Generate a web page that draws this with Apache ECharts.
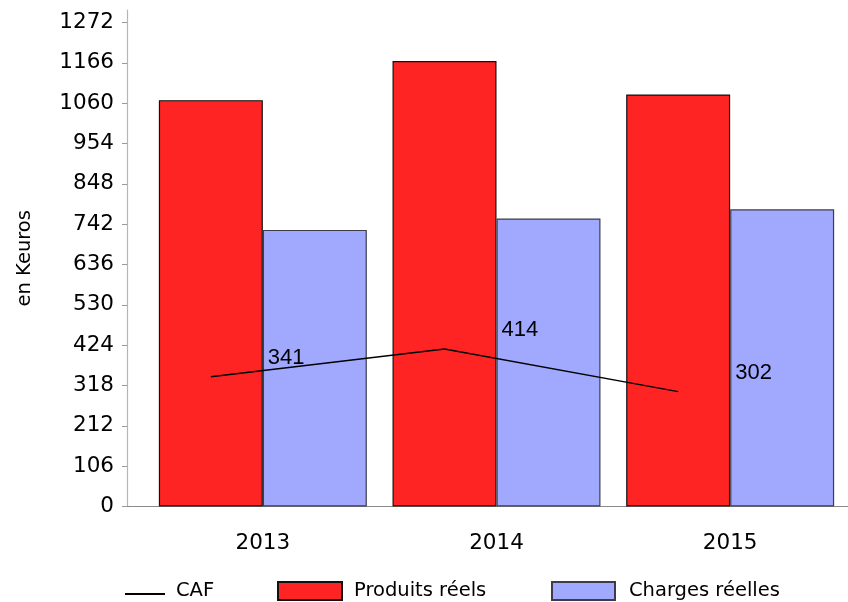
<!DOCTYPE html>
<html>
<head>
<meta charset="utf-8">
<script src="https://cdn.jsdelivr.net/npm/echarts@6/dist/echarts.min.js"></script>
<style>
html,body{margin:0;padding:0;background:#fff;}
#chart{width:848px;height:602px;}
</style>
</head>
<body>
<div id="chart"></div>
<script>
const categories = ['2013', '2014', '2015'];
const produitsReels = [1068, 1171, 1083];
const chargesReelles = [727, 757, 781];
const caf = [341, 414, 302];
const yTickValues = [0, 106, 212, 318, 424, 530, 636, 742, 848, 954, 1060, 1166, 1272];
const yMax = 1305;

const FONT = 'DejaVu Sans';
const chart = echarts.init(document.getElementById('chart'), null, {renderer: 'canvas'});

const catGap = 0.11;                 // barCategoryGap fraction
const redOffset = (1 - catGap) / 4;  // red bar centre offset from category centre (fraction of band)

const legendText = {color: '#000', fontFamily: FONT, fontSize: 19.5};

chart.setOption({
  backgroundColor: '#ffffff',
  animation: false,
  grid: [
    {left: 146, right: 1, top: 10, bottom: 95.5},
    {left: 127, right: 0, top: 10, bottom: 95.5}
  ],
  xAxis: [
    {
      gridIndex: 0, type: 'category', data: categories,
      axisLine: {show: false}, axisTick: {show: false},
      axisLabel: {margin: 26, color: '#000', fontFamily: FONT, fontSize: 21.5}
    },
    {
      gridIndex: 0, type: 'value', show: false,
      min: -0.5 + redOffset, max: categories.length - 0.5 + redOffset
    },
    {
      gridIndex: 1, type: 'value', min: 0, max: 1,
      axisLine: {show: true, lineStyle: {color: '#8a8a8a', width: 1.2}},
      axisTick: {show: false}, axisLabel: {show: false}, splitLine: {show: false}
    }
  ],
  yAxis: [
    {gridIndex: 0, type: 'value', min: 0, max: yMax, show: false},
    {
      gridIndex: 1, type: 'value', min: 0, max: yMax,
      name: 'en Keuros', nameLocation: 'middle', nameGap: 92,
      nameTextStyle: {color: '#000', fontFamily: FONT, fontSize: 19.5},
      axisLine: {show: true, lineStyle: {color: '#b5b5b5', width: 1.2}},
      axisTick: {show: true, length: 5, customValues: yTickValues, lineStyle: {color: '#9a9a9a'}},
      axisLabel: {
        customValues: yTickValues, margin: 13, color: '#000', fontFamily: FONT, fontSize: 21.5,
        formatter: v => String(v)
      },
      splitLine: {show: false}
    }
  ],
  legend: [
    {
      left: 125, top: 581, padding: 0, itemWidth: 40, itemHeight: 18,
      data: [{
        name: 'CAF',
        icon: 'path://M0,0 L0.01,0 L0.01,0.01 Z M0,11 L40,11 L40,13 L0,13 Z M0,18 L0.01,18 L0.01,17.99 Z'
      }],
      textStyle: Object.assign({padding: [0, 0, 0, 6]}, legendText)
    },
    {
      left: 277, top: 581, padding: 0, itemWidth: 64, itemHeight: 18,
      data: [{name: 'Produits réels', icon: 'rect'}],
      textStyle: Object.assign({padding: [0, 0, 0, 7]}, legendText)
    },
    {
      left: 551, top: 581, padding: 0, itemWidth: 63, itemHeight: 18,
      data: [{name: 'Charges réelles', icon: 'rect'}],
      textStyle: Object.assign({padding: [0, 0, 0, 9]}, legendText)
    }
  ],
  series: [
    {
      name: 'Produits réels', type: 'bar', xAxisIndex: 0, yAxisIndex: 0,
      data: produitsReels,
      barGap: '0%', barCategoryGap: (catGap * 100) + '%',
      itemStyle: {color: '#ff2424', borderColor: '#111', borderWidth: 1.2}
    },
    {
      name: 'Charges réelles', type: 'bar', xAxisIndex: 0, yAxisIndex: 0,
      data: chargesReelles,
      barGap: '0%', barCategoryGap: (catGap * 100) + '%',
      itemStyle: {color: '#a1a9ff', borderColor: '#3c3c4c', borderWidth: 1.2}
    },
    {
      name: 'CAF', type: 'line', xAxisIndex: 1, yAxisIndex: 0,
      data: caf.map((v, i) => [i, v]),
      symbol: 'circle', symbolSize: 0, showSymbol: true, z: 5,
      lineStyle: {color: '#000', width: 1.3},
      itemStyle: {color: '#000'},
      label: {
        show: true, position: 'right', distance: 5, offset: [52, -19],
        formatter: p => String(p.value[1]),
        color: '#000', fontFamily: 'Liberation Sans', fontSize: 22
      }
    }
  ]
});
</script>
</body>
</html>
